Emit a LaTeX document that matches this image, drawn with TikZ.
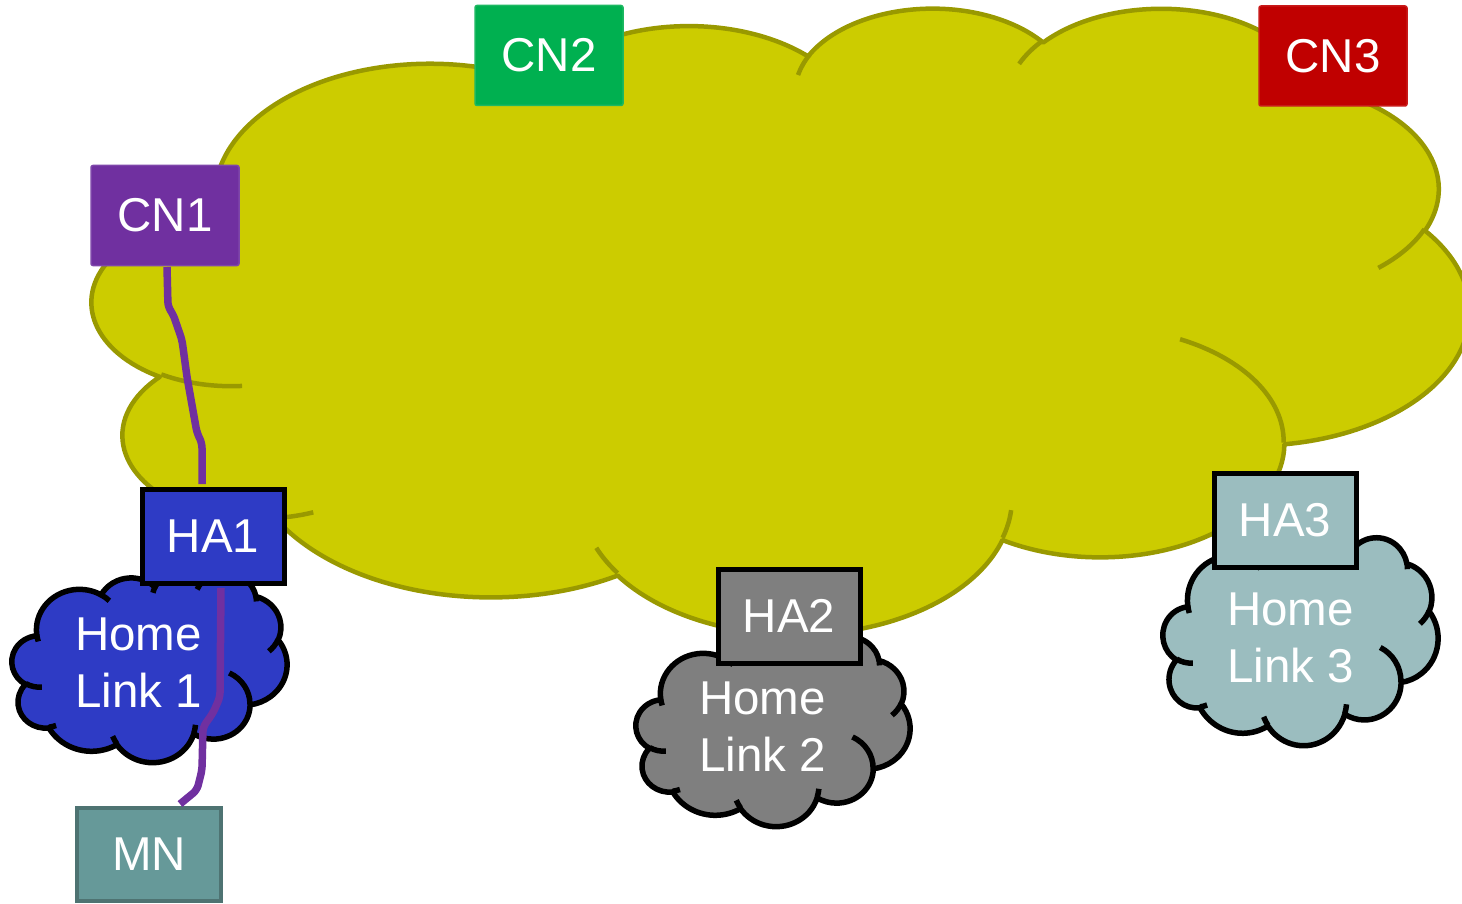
\documentclass[tikz,border=0pt]{standalone}
\usepackage{fontspec}
\setmainfont{Liberation Sans}
\usetikzlibrary{calc}

\definecolor{cloudfill}{HTML}{CCCC00}
\definecolor{cloudline}{HTML}{999900}
\definecolor{cnpurple}{HTML}{7030A0}
\definecolor{cnpurpleline}{HTML}{7E46AA}
\definecolor{cngreen}{HTML}{00B050}
\definecolor{cngreenline}{HTML}{1DB862}
\definecolor{cnred}{HTML}{C00000}
\definecolor{cnredline}{HTML}{C81A1A}
\definecolor{hablue}{HTML}{2E3BC5}
\definecolor{hagray}{HTML}{7F7F7F}
\definecolor{hateal}{HTML}{9BBDBF}
\definecolor{mnfill}{HTML}{669999}
\definecolor{mnline}{HTML}{4E7372}

% Office "cloud" preset: arcTo with visual angles -> TikZ parametric arcs
\newcommand\ooset[5]{%
  \pgfmathsetmacro\myta{atan2((#2)*sin(#4),(#3)*cos(#4))}%
  \pgfmathsetmacro\mytb{atan2((#2)*sin((#4)+(#5)),(#3)*cos((#4)+(#5)))}%
  \pgfmathsetmacro\mytd{mod(\mytb-\myta+720,360)}%
  \pgfmathsetmacro\mytd{(#5)>0 ? \mytd : \mytd-360}%
  \expandafter\xdef\csname #1\endcsname{arc[x radius=#2,y radius=#3,start angle=\myta,delta angle=\mytd]}}

\ooset{cldA}{675.3}{919.0}{-190.4875}{123.7805}
\ooset{cldB}{533.3}{726.7}{-144.1024}{89.9452}
\ooset{cldC}{436.5}{594.5}{-145.8079}{99.7230}
\ooset{cldD}{485.7}{659.5}{-130.9861}{117.2417}
\ooset{cldE}{533.3}{727.3}{-78.7089}{109.0269}
\ooset{cldF}{677.5}{922.0}{-46.2673}{130.2690}
\ooset{cldG}{578.5}{786.7}{0.6250}{114.0333}
\ooset{cldH}{675.2}{921.5}{22.4516}{115.1726}
\ooset{cldI}{772.0}{1054.3}{66.2426}{75.7110}
\ooset{cldJ}{436.0}{591.8}{-274.9421}{146.7356}
\ooset{cldK}{434.5}{594.5}{-246.8285}{152.5189}

\ooset{hkA}{434.5}{594.5}{86.7420}{26.4295}
\ooset{hkB}{436.0}{591.8}{73.6105}{11.4475}
\ooset{hkC}{675.2}{921.5}{137.6242}{14.0811}
\ooset{hkD}{675.2}{921.5}{6.4533}{15.9984}
\ooset{hkE}{578.5}{786.7}{-70.2924}{70.9174}
\ooset{hkF}{533.3}{727.3}{30.3180}{27.7515}
\ooset{hkG}{485.7}{659.5}{-13.7443}{14.8589}
\ooset{hkH}{485.7}{659.5}{-149.1815}{18.1954}
\ooset{hkI}{436.5}{594.5}{-163.4943}{17.6864}
\ooset{hkJ}{675.3}{919.0}{-66.7070}{12.3194}
\ooset{hkK}{675.3}{919.0}{157.6544}{11.8582}

\def\cloudouter{(390,1437) \cldA \cldB \cldC \cldD \cldE \cldF \cldG \cldH \cldI \cldJ \cldK -- cycle}
\def\cloudhooks{(469.3,2617.7) \hkA (692.8,3489.9) \hkB (1647.8,3909.0) \hkC
  (2882.7,3475.1) \hkD (3412.9,2295.4) \hkE (4179.8,1535.4) \hkF
  (3832.4,542.6) \hkG (2907.8,395.2) \hkH (2214.1,472.0) \hkI
  (1400.0,519.2) \hkJ (412.7,1578.9) \hkK}

\newcommand\bigtxt{\fontsize{47.5}{57}\selectfont}

\tikzset{
  box/.style={rectangle, inner sep=0pt, font=\bigtxt, text=white},
  cnbox/.style={box, minimum width=148pt, minimum height=100pt, rounded corners=2pt, line width=1.5pt},
  habox/.style={box, draw=black, line width=5pt, minimum width=142pt, minimum height=94pt},
  cloudtxt/.style={inner sep=0pt, font=\bigtxt, text=white, align=left, anchor=west},
  wire/.style={draw=cnpurple, line width=7.5pt, line join=round, rounded corners=5pt},
}

\begin{document}
\begin{tikzpicture}[x=1pt,y=-1pt]
\path[use as bounding box] (0,0) rectangle (1462,904);
\clip (0,0) rectangle (1462,904);

% big cloud
\begin{scope}[shift={(92.5,6.6)}, x=0.31866pt, y=-0.144907pt]
  \path[fill=cloudfill, draw=cloudline, line width=4.5pt, line join=round] \cloudouter;
  \path[draw=cloudline, line width=4.5pt] \cloudhooks;
\end{scope}

% home link clouds
\begin{scope}[shift={(12,572)}, x=0.063657pt, y=-0.043981pt]
  \path[fill=hablue, draw=black, line width=5.5pt, line join=round] \cloudouter;
  \path[draw=black, line width=5.5pt] \cloudhooks;
\end{scope}
\begin{scope}[shift={(636,636)}, x=0.063426pt, y=-0.043981pt]
  \path[fill=hagray, draw=black, line width=5.5pt, line join=round] \cloudouter;
  \path[draw=black, line width=5.5pt] \cloudhooks;
\end{scope}
\begin{scope}[shift={(1163,537)}, x=0.063657pt, y=-0.048148pt]
  \path[fill=hateal, draw=black, line width=5.5pt, line join=round] \cloudouter;
  \path[draw=black, line width=5.5pt] \cloudhooks;
\end{scope}

\node[cloudtxt] (hl1) at (75,663) {Home\\Link 1};
\node[cloudtxt] (hl2) at (699,727) {Home\\Link 2};
\node[cloudtxt] (hl3) at (1227,638) {Home\\Link 3};

% nodes
\node[cnbox, fill=cnpurple, draw=cnpurpleline] (cn1) at (165,215.5) {CN1};
\node[cnbox, fill=cngreen, draw=cngreenline] (cn2) at (549,55.5) {CN2};
\node[cnbox, fill=cnred, draw=cnredline] (cn3) at (1333,56) {CN3};
\node[habox, fill=hablue] (ha1) at (213,536) {HA1};
\node[habox, fill=hagray] (ha2) at (789,616) {HA2};
\node[habox, fill=hateal] (ha3) at (1285,520) {HA3};
\node[box, fill=mnfill, draw=mnline, line width=4pt, minimum width=144pt, minimum height=93pt] (mn) at (149,854.5) {MN};

% wires (ending at the outer edge of the box borders)
\draw[wire] ($(cn1.south)+(2,0.75)$) -- (168,307) -- (173,314) -- (182,340) -- (187,377)
  -- (197,433) -- (202,443) -- ($(ha1.north)+(-11,-2.5)$);
\draw[wire] ($(ha1.south)+(8,2.5)$) -- (220,697) -- (213,713) -- (203,727) -- (202,770)
  -- (197,790) -- ($(mn.north)+(31,-2)$);
\end{tikzpicture}
\end{document}
